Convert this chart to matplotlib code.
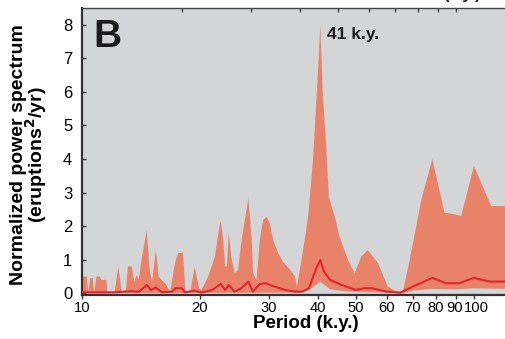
import numpy as np
import matplotlib
matplotlib.use("Agg")
import matplotlib.pyplot as plt
import matplotlib.transforms as mtransforms
from matplotlib.ticker import FixedLocator, NullFormatter, NullLocator

# ---- data ----
upper_period = [10.0, 10.28, 10.38, 10.48, 10.65, 10.73, 10.9, 11.1, 11.2, 11.56, 11.6,
                12.1, 12.38, 12.65, 12.95, 13.1, 13.4, 13.6, 13.8, 13.95, 14.2, 14.63,
                14.9, 15.1, 15.45, 15.7, 15.95, 16.3, 16.8, 17.27, 17.6, 18.1, 18.4,
                18.9, 19.4, 19.9, 20.2, 21.0, 21.85, 22.3, 22.6, 22.95, 23.2, 23.45,
                23.7, 24.05, 24.55, 25.05, 25.55, 26.05, 26.6, 27.1, 27.35, 27.9, 28.45,
                29.0, 29.6, 30.2, 30.8, 31.7, 32.6, 34.0, 35.0, 35.4, 36.7, 37.8, 38.9,
                40.0, 40.6, 41.2, 42.1, 42.7, 44.2, 45.5, 47.8, 49.7, 51.7, 53.7, 57.0,
                60.4, 63.5, 66.0, 68.7, 73.6, 78.5, 84.3, 90.0, 93.0, 100.2, 110.9, 121.0]
upper_power = [0.5, 0.5, 0.0, 0.45, 0.45, 0.0, 0.5, 0.5, 0.4, 0.4, 0.0,
               0.0, 0.79, 0.0, 0.1, 0.8, 0.8, 0.35, 0.55, 0.4, 1.0, 1.88,
               0.65, 0.35, 1.29, 0.5, 0.4, 0.3, 0.05, 0.9, 1.2, 1.2, 0.0,
               0.05, 0.79, 0.15, 0.1, 0.5, 1.09, 1.8, 2.18, 1.58, 0.8, 0.8,
               1.8, 1.09, 0.6, 0.7, 1.58, 2.18, 2.83, 1.68, 0.6, 0.4, 1.58,
               2.18, 2.28, 2.08, 1.58, 1.2, 0.94, 0.7, 0.5, 0.2, 1.29, 2.28, 3.97,
               6.45, 8.0, 5.95, 4.26, 2.87, 2.28, 1.68, 0.99, 0.6, 1.1, 1.29, 0.9,
               0.2, 0.05, 0.05, 1.0, 2.8, 4.0, 2.4, 2.35, 2.3, 3.8, 2.6, 2.6]

lower_period = [10.0, 36.0, 38.0, 40.6, 43.0, 48.0, 60.0, 66.0, 70.0, 78.0, 90.0, 100.0, 121.0]
lower_power = [0.0, 0.02, 0.1, 0.35, 0.12, 0.05, 0.02, 0.0, 0.08, 0.13, 0.12, 0.15, 0.13]

median_period = [10.0, 12.0, 13.3, 14.0, 14.63, 15.0, 15.45, 16.0, 17.0, 17.3, 18.0, 18.3, 19.4,
                 20.2, 21.5, 22.6, 23.2, 23.7, 24.5, 25.5, 26.6, 27.3, 28.5, 29.5, 31.0,
                 33.0, 35.0, 36.5, 38.0, 39.5, 40.6, 41.5, 43.0, 46.0, 50.0, 52.5, 55.0,
                 60.0, 65.0, 70.0, 78.5, 85.0, 92.0, 100.0, 110.0, 121.0]
median_power = [0.03, 0.03, 0.06, 0.05, 0.25, 0.1, 0.17, 0.03, 0.05, 0.15, 0.15, 0.03, 0.08,
                0.02, 0.1, 0.28, 0.1, 0.25, 0.05, 0.15, 0.35, 0.05, 0.28, 0.3, 0.2,
                0.1, 0.05, 0.05, 0.15, 0.7, 0.99, 0.65, 0.4, 0.25, 0.1, 0.15, 0.15,
                0.05, 0.02, 0.2, 0.46, 0.3, 0.3, 0.46, 0.35, 0.35]

x_ticks = [10, 20, 30, 40, 50, 60, 70, 80, 90, 100]
x_ticklabels = ["10", "20", "30", "40", "50", "60", "70", "80", "90", "100"]
y_ticks = [0, 1, 2, 3, 4, 5, 6, 7, 8]

# ---- figure ----
plt.rcParams['font.family'] = ['Liberation Sans', 'DejaVu Sans']
fig = plt.figure(figsize=(5.06, 3.39), dpi=100)
ax = fig.add_axes([82/506, 44/339, 1 - 82/506, (295 - 8)/339])
ax.set_facecolor('#d3d5d7')

poly_x = np.concatenate([upper_period, lower_period[::-1]])
poly_y = np.concatenate([upper_power, lower_power[::-1]])
ax.set_xscale('log')
ax.fill(poly_x, poly_y, color='#e8836a', lw=0, zorder=2)
ax.plot(median_period, median_power, color='#e3242b', lw=1.5, zorder=3)

ax.set_xlim(10, 121)
ax.set_ylim(-0.05, 8.5)

ax.xaxis.set_major_locator(FixedLocator(x_ticks))
ax.set_xticklabels(x_ticklabels)
ax.xaxis.set_minor_locator(NullLocator())
ax.set_yticks(y_ticks)

ax.tick_params(axis='x', which='major', direction='out', length=3, width=1,
               labelsize=10.6, pad=1, color='#333333')
ax.tick_params(axis='y', which='major', direction='in', length=3, width=1,
               labelsize=12, pad=7, color='#333333')

# nudge the crowded "90" / "100" labels apart as in the reference
for tick in ax.xaxis.get_major_ticks():
    txt = tick.label1.get_text()
    if txt == "100":
        tick.label1.set_transform(tick.label1.get_transform() +
                                  mtransforms.ScaledTranslation(3/100, 0, fig.dpi_scale_trans))
    elif txt == "90":
        tick.label1.set_transform(tick.label1.get_transform() +
                                  mtransforms.ScaledTranslation(-1.5/100, 0, fig.dpi_scale_trans))

for side in ['left', 'bottom']:
    ax.spines[side].set_linewidth(1.6)
    ax.spines[side].set_color('#333333')
ax.spines['top'].set_linewidth(1.0)
ax.spines['top'].set_color('#444444')
ax.spines['right'].set_visible(False)

# top ticks (shifted, from the companion axis)
sec = ax.secondary_xaxis('top', functions=(lambda p: p * 1.11, lambda p: p / 1.11))
sec.xaxis.set_major_locator(FixedLocator(x_ticks))
sec.xaxis.set_minor_locator(NullLocator())
sec.xaxis.set_major_formatter(NullFormatter())
sec.tick_params(direction='in', length=3, width=1, color='#444444')
sec.spines['top'].set_visible(False)

ax.set_xlabel('Period (k.y.)', fontsize=13.5, fontweight='bold')
ax.xaxis.set_label_coords((306 - 82) / 424, -20 / 287)
ax.set_ylabel('Normalized power spectrum\n(eruptions$^{\\mathbf{2}}$/yr)', fontsize=14,
              fontweight='bold', linespacing=0.8)
ax.yaxis.set_label_coords(-(82 - 49) / 424, (295 - 155) / 287)

ax.text(0.026, 0.96, 'B', transform=ax.transAxes, fontsize=28, fontweight='bold',
        va='top', ha='left', color='#1a1a1a')
ax.text(42.2, 7.7, '41 k.y.', fontsize=12.5, fontweight='bold', va='center', ha='left',
        color='#1a1a1a')

fig.text(462/506, 1.004, '(k.y.)', fontsize=12, fontweight='bold', ha='center',
         va='baseline', color='#1a1a1a')

fig.savefig('out.png', dpi=100)
